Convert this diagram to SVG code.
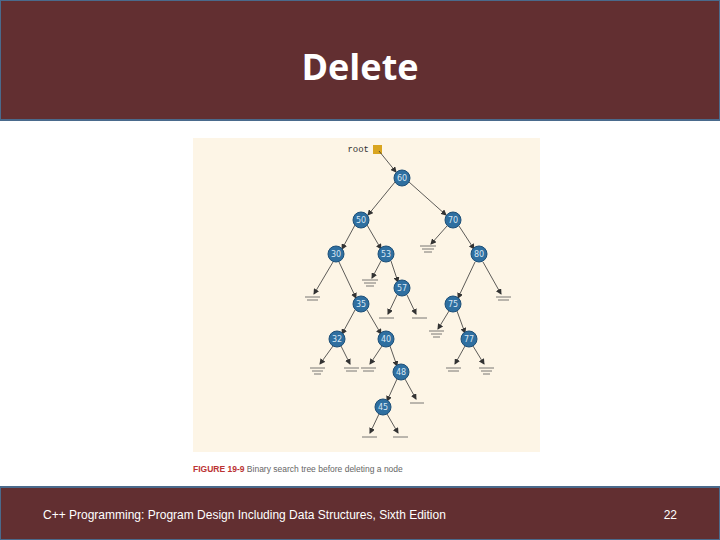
<svg xmlns="http://www.w3.org/2000/svg" width="720" height="540" viewBox="0 0 720 540">
<defs>
<style>
.n circle{fill:#2f6fa0;stroke:#1d4f78;stroke-width:1}
.n text{font-family:"DejaVu Sans",sans-serif;font-size:8px;fill:#d6e6f4;text-anchor:middle}
.e{stroke:#333;stroke-width:0.8;fill:none;marker-end:url(#a)}
.g{stroke:#555;stroke-width:0.8}
</style>
<marker id="a" markerWidth="6" markerHeight="6" refX="5" refY="3" orient="auto" markerUnits="userSpaceOnUse"><path d="M0,0 L6,3 L0,6z" fill="#333"/></marker>
</defs>
<rect width="720" height="540" fill="#fff"/>
<rect x="0" y="0" width="720" height="120" fill="#622f31" stroke="#4a6a8c" stroke-width="2"/>
<text x="360" y="80" font-family="'Open Sans',sans-serif" font-weight="bold" font-size="36" fill="#fff" text-anchor="middle">Delete</text>
<rect x="0" y="487" width="720" height="53" fill="#622f31" stroke="#4a6a8c" stroke-width="2"/>
<text x="43" y="519" font-family="'Liberation Sans',sans-serif" font-size="12" fill="#fff">C++ Programming: Program Design Including Data Structures, Sixth Edition</text>
<text x="677" y="519" font-family="'Liberation Sans',sans-serif" font-size="12" fill="#fff" text-anchor="end">22</text>
<rect x="193" y="138" width="347" height="314" fill="#fdf5e6"/>
<text x="193" y="472" font-family="'Liberation Sans',sans-serif" font-size="8.5" fill="#666"><tspan font-weight="bold" fill="#b33">FIGURE 19-9</tspan>  Binary search tree before deleting a node</text>
<text x="369" y="152" font-family="'Liberation Mono',monospace" font-size="9" fill="#333" text-anchor="end">root</text>
<rect x="373" y="145" width="9" height="9" fill="#d9a520"/>
<g id="connectors">
<path class="e" d="M379,151 L396,172"/>
<path class="e" d="M395,182 L368,215"/><path class="e" d="M409,182 L446,215"/>
<path class="e" d="M355,225 L342,249"/><path class="e" d="M367,225 L381,249"/>
<path class="e" d="M447,226 L431,244"/><path class="e" d="M459,226 L474,249"/>
<path class="e" d="M333,262 L314,294"/><path class="e" d="M339,262 L356,298"/>
<path class="e" d="M381,261 L372,278"/><path class="e" d="M391,261 L398,282"/>
<path class="e" d="M475,262 L458,298"/><path class="e" d="M483,262 L501,294"/>
<path class="e" d="M397,295 L388,314"/><path class="e" d="M407,295 L416,314"/>
<path class="e" d="M355,310 L342,334"/><path class="e" d="M367,310 L381,334"/>
<path class="e" d="M449,311 L438,329"/><path class="e" d="M457,311 L465,333"/>
<path class="e" d="M333,346 L320,364"/><path class="e" d="M341,346 L350,364"/>
<path class="e" d="M382,346 L370,364"/><path class="e" d="M390,346 L397,366"/>
<path class="e" d="M465,346 L455,364"/><path class="e" d="M473,346 L484,364"/>
<path class="e" d="M397,379 L387,401"/><path class="e" d="M405,379 L416,399"/>
<path class="e" d="M379,414 L370,433"/><path class="e" d="M387,414 L398,433"/>
</g>
<g id="nulls" class="g">
<path d="M420,246h16M422,249h12M424,252h8"/>
<path d="M362,280h16M364,283h12M366,286h8"/>
<path d="M305,297h15M307,300h11"/>
<path d="M496,297h15M498,300h11"/>
<path d="M379,318h15M412,318h15"/>
<path d="M429,331h15M431,334h11M433,337h7"/>
<path d="M310,368h15M312,371h11M314,374h7"/>
<path d="M344,368h15M346,371h11"/>
<path d="M361,368h15M363,371h11"/>
<path d="M446,368h15M448,371h11"/>
<path d="M479,368h15M481,371h11M483,374h7"/>
<path d="M410,403h14"/>
<path d="M362,437h15M393,437h15"/>
</g>
<g id="n60" class="n"><circle cx="402" cy="178" r="8"/><text x="402" y="181">60</text></g>
<g id="n50" class="n"><circle cx="361" cy="220" r="8"/><text x="361" y="223">50</text></g>
<g id="n70" class="n"><circle cx="453" cy="220" r="8"/><text x="453" y="223">70</text></g>
<g id="n30" class="n"><circle cx="336" cy="254" r="8"/><text x="336" y="257">30</text></g>
<g id="n53" class="n"><circle cx="386" cy="254" r="8"/><text x="386" y="257">53</text></g>
<g id="n80" class="n"><circle cx="479" cy="254" r="8"/><text x="479" y="257">80</text></g>
<g id="n57" class="n"><circle cx="402" cy="288" r="8"/><text x="402" y="291">57</text></g>
<g id="n35" class="n"><circle cx="361" cy="304" r="8"/><text x="361" y="307">35</text></g>
<g id="n75" class="n"><circle cx="453" cy="304" r="8"/><text x="453" y="307">75</text></g>
<g id="n32" class="n"><circle cx="337" cy="339" r="8"/><text x="337" y="342">32</text></g>
<g id="n40" class="n"><circle cx="386" cy="339" r="8"/><text x="386" y="342">40</text></g>
<g id="n77" class="n"><circle cx="469" cy="339" r="8"/><text x="469" y="342">77</text></g>
<g id="n48" class="n"><circle cx="401" cy="372" r="8"/><text x="401" y="375">48</text></g>
<g id="n45" class="n"><circle cx="383" cy="407" r="8"/><text x="383" y="410">45</text></g>
</svg>
